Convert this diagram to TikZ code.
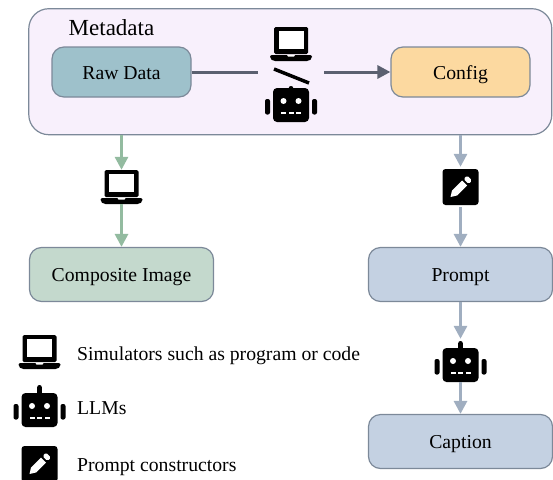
\documentclass[tikz,border=0pt]{standalone}
\usepackage{fontspec}
\setmainfont{Liberation Serif}
\usepackage{xcolor}
\usetikzlibrary{arrows.meta}

\definecolor{panelfill}{HTML}{F8F0FC}
\definecolor{rawfill}{HTML}{9EC1CB}
\definecolor{configfill}{HTML}{FCD9A0}
\definecolor{imagefill}{HTML}{C4D9CD}
\definecolor{promptfill}{HTML}{C4D1E2}
\definecolor{edgegray}{HTML}{7C8999}
\definecolor{darkline}{HTML}{5B6070}
\definecolor{greenline}{HTML}{93BBA0}
\definecolor{blueline}{HTML}{A0AEC0}

\tikzset{
    databox/.style={draw=edgegray, line width=1.2pt, rounded corners=12pt, minimum width=139pt, minimum height=50pt, inner sep=0pt, text height=14pt, text depth=0pt, font=\fontsize{19.7pt}{22pt}\selectfont},
    widebox/.style={databox, minimum width=184pt, minimum height=54pt},
    iconbox/.style={inner sep=0pt, minimum width=#1, minimum height=34pt},
    legendtext/.style={anchor=base west, inner sep=0pt, font=\fontsize{19.7pt}{22pt}\selectfont},
    flowdark/.style={line width=3pt, draw=darkline, -{Triangle[length=13pt, width=13pt, fill=darkline]}},
    flowgreen/.style={line width=3pt, draw=greenline, -{Triangle[length=13pt, width=13pt, fill=greenline]}},
    flowblue/.style={line width=3pt, draw=blueline, -{Triangle[length=13pt, width=13pt, fill=blueline]}},
    laptopicon/.pic={
        \fill[black, rounded corners=1.5pt] (-17,-17) rectangle (17,10);
        \fill[white] (-12.5,-13) rectangle (12.5,5);
        \fill[black, rounded corners=2pt] (-21,11) -- (21,11) -- (21,14.5) -- (18,17) -- (-18,17) -- (-21,14.5) -- cycle;
        \fill[white] (-4,11) -- (4,11) -- (3,12.5) -- (-3,12.5) -- cycle;
    },
    roboticon/.pic={
        \fill[black, rounded corners=2.2pt] (-2.3,-#1) rectangle (2.3,-14);
        \fill[black, rounded corners=4pt] (-18,-17) rectangle (18,17);
        \fill[black, rounded corners=2pt] (-26,-6) rectangle (-21,9.5);
        \fill[black, rounded corners=2pt] (21,-6) rectangle (26,9.5);
        \fill[white] (-7.5,-4) circle (3);
        \fill[white] (7.5,-4) circle (3);
        \foreach \dx in {-10,-2.5,5}
            \fill[white] (\dx,7) rectangle ++(5,2.3);
    },
    penicon/.pic={
        \fill[black, rounded corners=3pt] (-18,-18) rectangle (18,18);
        \fill[white] (-10,10) -- (-8.5,3.5) -- (1.5,-6.5) -- (6.5,-1.5) -- (-3.5,8.5) -- cycle;
        \fill[white, rounded corners=1.5pt] (3,-8) -- (6.5,-11.5) -- (11.5,-6.5) -- (8,-3) -- cycle;
    },
}

\begin{document}
\begin{tikzpicture}[x=1pt, y=-1pt]
    \useasboundingbox (0,0) rectangle (553,479);

    % panel and boxes
    \node[draw=edgegray, line width=1.2pt, fill=panelfill, rounded corners=20pt, minimum width=523pt, minimum height=126pt, inner sep=0pt] (metadata) at (290.3,71.7) {};
    \node[inner sep=0pt, text height=16pt, text depth=0pt, font=\fontsize{23pt}{26pt}\selectfont] (metalabel) at (111.5,27) {Metadata};
    \node[databox, fill=rawfill] (rawdata) at (121.5,72) {Raw Data};
    \node[databox, fill=configfill] (config) at (460.5,72) {Config};
    \node[widebox, fill=imagefill] (composite) at (121.5,274.5) {Composite Image};
    \node[widebox, fill=promptfill] (prompt) at (460.5,274.5) {Prompt};
    \node[widebox, fill=promptfill] (caption) at (460.5,441.5) {Caption};

    % icons
    \node[iconbox=42pt] (simtop) at (291,44) {};
    \node[iconbox=52pt] (llmtop) at (291,105) {};
    \node[iconbox=42pt] (simleft) at (121.5,187) {};
    \node[iconbox=36pt] (penright) at (460.5,187) {};
    \node[iconbox=52pt] (llmright) at (460.5,365) {};
    \pic at (simtop) {laptopicon};
    \pic at (llmtop) {roboticon=19};
    \pic at (simleft) {laptopicon};
    \pic at (penright) {penicon};
    \pic at (llmright) {roboticon=24};
    \coordinate (slashA) at (274,69);
    \coordinate (slashB) at (309,83);
    \draw[line width=3.5pt] (slashA) -- (slashB);

    % connectors
    \coordinate (gapA) at (258,72);
    \coordinate (gapB) at (324,72);
    \draw[line width=3pt, draw=darkline] (rawdata.east) -- (gapA);
    \draw[flowdark] (gapB) -- (config.west);
    \draw[flowgreen] (metadata.south -| simleft) -- (simleft.north);
    \draw[flowgreen] (simleft.south) -- (composite.north);
    \draw[flowblue, shorten >=3pt] (metadata.south -| penright) -- (penright.north);
    \draw[flowblue, shorten <=3pt] (penright.south) -- (prompt.north);
    \draw[flowblue, shorten >=9pt] (prompt.south) -- (llmright.north);
    \draw[flowblue] (llmright.south) -- (caption.north);

    % legend
    \node[iconbox=42pt] (simkey) at (39.5,352) {};
    \node[iconbox=52pt] (llmkey) at (39.5,410) {};
    \node[iconbox=36pt] (penkey) at (39.5,464) {};
    \pic at (simkey) {laptopicon};
    \pic at (llmkey) {roboticon=25};
    \pic at (penkey) {penicon};
    \node[legendtext] (simtext) at (77,360.5) {Simulators such as program or code};
    \node[legendtext] (llmtext) at (77,414) {LLMs};
    \node[legendtext] (pentext) at (77,471) {Prompt constructors};
\end{tikzpicture}
\end{document}
